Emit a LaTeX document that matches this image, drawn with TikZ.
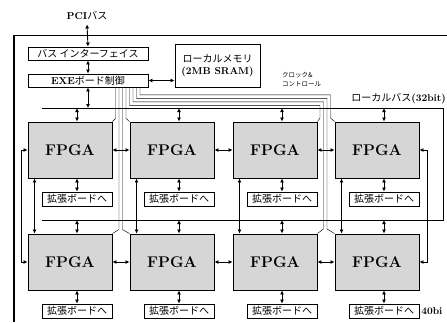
\documentclass[tikz,border=0pt]{standalone}
\usepackage{fontspec}
\newfontfamily\jp{Noto Sans CJK JP}
\usetikzlibrary{arrows.meta}
\begin{document}
\begin{tikzpicture}[x=1pt,y=-1pt,
  box/.style={draw, line width=0.9pt, inner sep=0pt},
  fpga/.style={box, fill=gray!32, minimum width=84pt, minimum height=56pt, font=\fontsize{15.5}{15.5}\selectfont\bfseries},
  ext/.style={box, minimum width=70pt, minimum height=14pt, font=\jp\fontsize{10}{10}\selectfont},
  ctrl/.style={box, minimum width=120pt, minimum height=13pt, font=\jp\fontsize{10}{10}\selectfont},
  arr/.style={line width=0.9pt, {Latex[length=4pt,width=4pt]}-{Latex[length=4pt,width=4pt]}},
  sig/.style={line width=0.45pt},
  bus/.style={line width=0.9pt},
  frame/.style={line width=1.2pt},
  lbl/.style={inner sep=0pt, font=\fontsize{10}{10}\selectfont}
]
\useasboundingbox (0,0) rectangle (447,322);
\fill[white] (0,0) rectangle (447,322);

% outer frame
\coordinate (frTL) at (14,35.5);
\coordinate (frTR) at (447,35.5);
\coordinate (frBL) at (14,322);
\draw[frame] (frTR) -- (frTL) -- (frBL);

% top part
\node[lbl] (pci) at (87,16) {{\bfseries PCI}{\jp バス}};
\node[ctrl] (bif) at (88,53.5) {バス インターフェイス};
\node[ctrl] (exe) at (88,80.5) {{\fontspec{Latin Modern Roman}\bfseries EXE}ボード制御};
\node[box, minimum width=85pt, minimum height=43pt, align=center, font=\fontsize{10}{12}\selectfont] (mem) at (217.5,66)
  {{\jp ローカルメモリ}\\{\bfseries (2MB SRAM)}};
\draw[arr] ([yshift=-4pt]pci.south) -- (bif.north);
\draw[arr] (bif.south) -- (exe.north);
\draw[arr] (exe.east) -- (exe.east -| mem.west);

\node[lbl, anchor=north west, align=left, font=\jp\fontsize{6.5}{9}\selectfont] (clk) at (282,72) {クロック\&\\コントロール};
\node[lbl, anchor=south east] (lbus) at (446,104) {{\jp ローカルバス}{\bfseries (32bit)}};

% FPGAs
\node[fpga] (f11) at (70,150) {FPGA};
\node[fpga] (f12) at (172,150) {FPGA};
\node[fpga] (f13) at (275,150) {FPGA};
\node[fpga] (f14) at (377,150) {FPGA};
\node[fpga] (f21) at (70,262) {FPGA};
\node[fpga] (f22) at (172,262) {FPGA};
\node[fpga] (f23) at (275,262) {FPGA};
\node[fpga] (f24) at (377,262) {FPGA};

% expansion boxes
\node[ext] (e11) at (77,199) {拡張ボードへ};
\node[ext] (e12) at (179,199) {拡張ボードへ};
\node[ext] (e13) at (282,199) {拡張ボードへ};
\node[ext] (e14) at (384,199) {拡張ボードへ};
\node[ext] (e21) at (77,311) {拡張ボードへ};
\node[ext] (e22) at (179,311) {拡張ボードへ};
\node[ext] (e23) at (282,311) {拡張ボードへ};
\node[ext] (e24) at (384,311) {拡張ボードへ};
\node[lbl, anchor=west, font=\fontsize{10}{10}\selectfont\bfseries] (b40) at (e24.east) {\,40bi};

% local bus
\coordinate (busTL) at (42,108);
\coordinate (busTR) at (443,108);
\coordinate (busBR) at (443,220);
\coordinate (busBL) at (42,220);
\draw[bus] (busTL) -- (busTR) -- (busBR) -- (busBL);
\draw[arr] (exe.south) -- (exe.south |- busTL);

% clock & control lines
\coordinate (b1) at (320,118);
\coordinate (b2) at (323.5,229);
\coordinate (b3) at (327,229);
\coordinate (b4) at (330.5,118);
\draw[sig] ([xshift=27.5pt]exe.south) -- ++(0,31) -- (f11.north east);
\draw[sig] ([xshift=31pt]exe.south) -- ++(0,142) -- (f21.north east);
\draw[sig] ([xshift=34.5pt]exe.south) -- ++(0,142) -- (f22.north west);
\draw[sig] ([xshift=38pt]exe.south) -- ++(0,31) -- (f12.north west);
\draw[sig] ([xshift=41.5pt]exe.south) -- ++(0,18) -| (b1) -- (f13.north east);
\draw[sig] ([xshift=45pt]exe.south) -- ++(0,14.5) -| (b2) -- (f23.north east);
\draw[sig] ([xshift=48.5pt]exe.south) -- ++(0,11) -| (b3) -- (f24.north west);
\draw[sig] ([xshift=52pt]exe.south) -- ++(0,7.5) -| (b4) -- (f14.north west);

% bus to FPGA and FPGA to expansion
\foreach \c in {1,2,3,4}{
  \draw[arr] (e1\c |- busTL) -- (e1\c |- f1\c.north);
  \draw[arr] (e1\c |- f1\c.south) -- (e1\c.north);
  \draw[arr] (e2\c |- busBL) -- (e2\c |- f2\c.north);
  \draw[arr] (e2\c |- f2\c.south) -- (e2\c.north);
  \draw[arr] ([xshift=7pt]f1\c.south west) -- ([xshift=7pt]f2\c.north west);
}

% ring links
\draw[arr] (f11.east) -- (f12.west);
\draw[arr] (f12.east) -- (f13.west);
\draw[arr] (f13.east) -- (f14.west);
\draw[arr] (f21.east) -- (f22.west);
\draw[arr] (f22.east) -- (f23.west);
\draw[arr] (f23.east) -- (f24.west);
\draw[arr] (f11.west) -- ++(-6,0) |- (f21.west);
\draw[arr] (f14.east) -- ++(8,0) |- (f24.east);
\end{tikzpicture}
\end{document}
